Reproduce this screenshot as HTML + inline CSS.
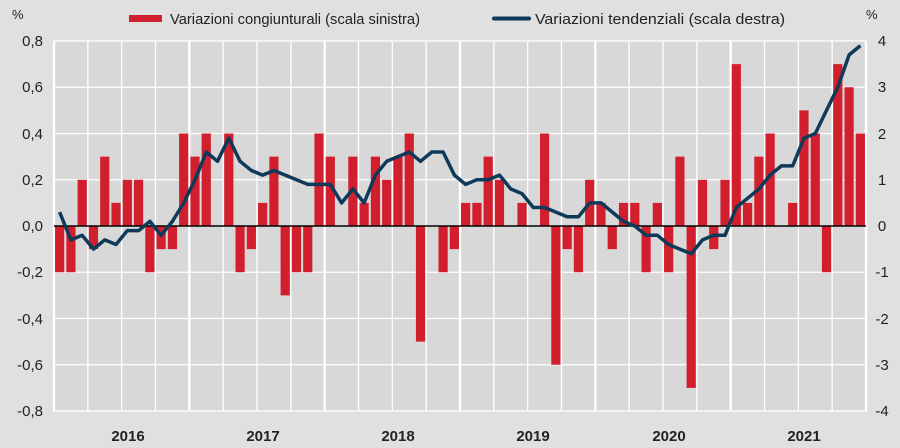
<!DOCTYPE html>
<html><head><meta charset="utf-8"><style>
html,body{margin:0;padding:0;background:#e0e0e0;}
svg{display:block;font-family:"Liberation Sans",Arial,sans-serif;}
</style></head><body>
<svg id="c" width="900" height="448" viewBox="0 0 900 448" xmlns="http://www.w3.org/2000/svg">
<rect x="0" y="0" width="900" height="448" fill="#e0e0e0"/>
<rect x="54" y="41" width="812" height="370" fill="#d8d8d8"/>
<g id="grid"></g>
<g id="bars"></g>
<line x1="54" y1="226" x2="866" y2="226" stroke="#000" stroke-width="1.6"/>
<polyline id="ln" fill="none" stroke="#0e3a5a" stroke-width="3.5" stroke-linejoin="round" points=""/>
<g font-size="15" fill="#222">
<text x="12" y="19" font-size="13">%</text>
<text x="866" y="19" font-size="13">%</text>
<g text-anchor="end">
<text x="43" y="46">0,8</text><text x="43" y="92">0,6</text><text x="43" y="139">0,4</text>
<text x="43" y="185">0,2</text><text x="43" y="231">0,0</text><text x="43" y="277">-0,2</text>
<text x="43" y="324">-0,4</text><text x="43" y="370">-0,6</text><text x="43" y="416">-0,8</text>
</g>
<g text-anchor="middle">
<text x="882" y="46">4</text><text x="882" y="92">3</text><text x="882" y="139">2</text>
<text x="882" y="185">1</text><text x="882" y="231">0</text><text x="882" y="277">-1</text>
<text x="882" y="324">-2</text><text x="882" y="370">-3</text><text x="882" y="416">-4</text>
</g>
<g text-anchor="middle" font-weight="bold" font-size="15">
<text x="128" y="441">2016</text><text x="263" y="441">2017</text><text x="398" y="441">2018</text>
<text x="533" y="441">2019</text><text x="669" y="441">2020</text><text x="804" y="441">2021</text>
</g>
<rect x="129" y="15" width="33" height="7" fill="#d21f2e"/>
<text x="170" y="24" textLength="250" lengthAdjust="spacingAndGlyphs">Variazioni congiunturali (scala sinistra)</text>
<line x1="494" y1="18.5" x2="529" y2="18.5" stroke="#0e3a5a" stroke-width="4" stroke-linecap="round"/>
<text x="535" y="24" textLength="250" lengthAdjust="spacingAndGlyphs">Variazioni tendenziali (scala destra)</text>
</g>
</svg>
<script>
var bars=[-0.2,-0.2,0.2,-0.1,0.3,0.1,0.2,0.2,-0.2,-0.1,-0.1,0.4,
0.3,0.4,0,0.4,-0.2,-0.1,0.1,0.3,-0.3,-0.2,-0.2,0.4,
0.3,0,0.3,0.1,0.3,0.2,0.3,0.4,-0.5,0,-0.2,-0.1,
0.1,0.1,0.3,0.2,0,0.1,0,0.4,-0.6,-0.1,-0.2,0.2,
0.1,-0.1,0.1,0.1,-0.2,0.1,-0.2,0.3,-0.7,0.2,-0.1,0.2,
0.7,0.1,0.3,0.4,0,0.1,0.5,0.4,-0.2,0.7,0.6,0.4];
var line=[0.3,-0.3,-0.2,-0.5,-0.3,-0.4,-0.1,-0.1,0.1,-0.2,0.1,0.5,
1.0,1.6,1.4,1.9,1.4,1.2,1.1,1.2,1.1,1.0,0.9,0.9,
0.9,0.5,0.8,0.5,1.1,1.4,1.5,1.6,1.4,1.6,1.6,1.1,
0.9,1.0,1.0,1.1,0.8,0.7,0.4,0.4,0.3,0.2,0.2,0.5,
0.5,0.3,0.1,0.0,-0.2,-0.2,-0.4,-0.5,-0.6,-0.3,-0.2,-0.2,
0.4,0.6,0.8,1.1,1.3,1.3,1.9,2.0,2.5,3.0,3.7,3.9];
var NS="http://www.w3.org/2000/svg",L=54,W=812,m=W/72,z=226;
function el(t,a,p){var e=document.createElementNS(NS,t);for(var k in a)e.setAttribute(k,a[k]);p.appendChild(e);}
var g=document.getElementById('grid');
for(var i=0;i<9;i++){var y=41+i*46.25;el('line',{x1:L,x2:L+W,y1:y,y2:y,stroke:'#fff','stroke-width':1.3},g);}
for(var q=0;q<=24;q++){var x=L+q*3*m;el('line',{x1:x,x2:x,y1:41,y2:411,stroke:'#fff','stroke-width':(q%4==0)?2.4:1.3},g);}
var b=document.getElementById('bars');
bars.forEach(function(v,i){if(!v)return;var cx=L+(i+0.5)*m,h=Math.abs(v)*231.25;
el('rect',{x:cx-4.6,y:v>0?z-h:z,width:9.2,height:h,fill:'#d21f2e'},b);});
document.getElementById('ln').setAttribute('points',line.map(function(v,i){return (L+(i+0.5)*m).toFixed(1)+','+(z-v*46.25).toFixed(1);}).join(' '));
</script>
</body></html>
